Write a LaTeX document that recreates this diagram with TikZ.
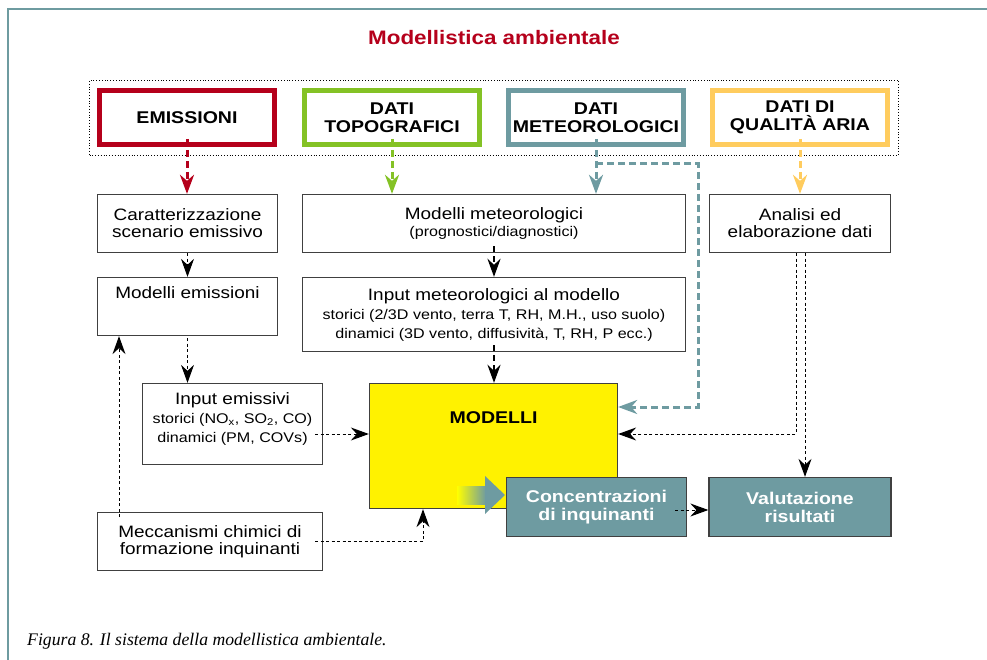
\documentclass[tikz,border=0pt]{standalone}
\usepackage{fontspec}
\setmainfont{Liberation Sans}[FakeStretch=1.15]
\newfontfamily\capfont{Liberation Serif}
\usetikzlibrary{arrows.meta,calc}
\definecolor{cred}{HTML}{B5001B}
\definecolor{cgreen}{HTML}{84C225}
\definecolor{cteal}{HTML}{6E9BA1}
\definecolor{cyel}{HTML}{FFCC5E}
\definecolor{cframe}{HTML}{6E9BA0}
\definecolor{cborder}{HTML}{404040}
\newcommand{\bigf}{\fontsize{16.5}{17}\selectfont}
\newcommand{\smallf}{\fontsize{14}{19}\selectfont}
\newcommand{\boldf}{\fontsize{17}{18}\selectfont\bfseries}
\tikzset{
  topbox/.style={draw, line width=5pt, fill=white, minimum width=175pt, minimum height=54pt, align=center, font=\boldf, inner sep=0pt},
  plainbox/.style={draw=cborder, line width=1.3pt, fill=white, align=center, inner sep=0pt, font=\bigf},
  tealbox/.style={draw=cborder, line width=1.3pt, fill=cteal, align=center, inner sep=0pt, font=\boldf, text=white},
  txt/.style={inner sep=0pt, align=center},
  cdash/.style={draw=#1, line width=3pt, dash pattern=on 7pt off 4pt, -{Stealth[length=19pt,width=14pt,inset=6pt,fill=#1]}},
  bdash/.style={draw=black, line width=2.5pt, dash pattern=on 6pt off 4pt, -{Stealth[length=18pt,width=13pt,inset=6pt]}},
  tdash/.style={draw=black, line width=1pt, dash pattern=on 3pt off 2.5pt, -{Stealth[length=18pt,width=13pt,inset=6pt]}},
}
\begin{document}
\begin{tikzpicture}[x=1pt,y=-1pt]
\useasboundingbox (0,0) rectangle (987,660);
% frame
\draw[cframe, line width=2.5pt] (8,660) -- (8,9) -- (987,9);
% title
\node[txt, font=\fontsize{19.5}{20}\selectfont\bfseries, text=cred] (title) at (494,38) {Modellistica ambientale};
% dotted group
\node[draw, dotted, line width=0.8pt, minimum width=809pt, minimum height=75pt, inner sep=0pt] (grp) at (494,117.5) {};
% top boxes
\node[topbox, draw=cred]   (emi) at (187,117.5) {EMISSIONI};
\node[topbox, draw=cgreen] (topo) at (392,117.5) {DATI\\TOPOGRAFICI};
\node[topbox, draw=cteal]  (met) at (596,117.5) {DATI\\METEOROLOGICI};
\node[topbox, draw=cyel]   (qual) at (800,117.5) {DATI DI\\QUALITÀ ARIA};
% second row
\node[plainbox, minimum width=180pt, minimum height=58pt] (car) at (187.5,223.5) {Caratterizzazione\\scenario emissivo};
\node[plainbox, minimum width=383pt, minimum height=58pt, font=\smallf] (mmet) at (494,223.5) {{\bigf Modelli meteorologici}\\[-2pt](prognostici/diagnostici)};
\node[plainbox, minimum width=181pt, minimum height=58pt] (ana) at (800,223.5) {Analisi ed\\elaborazione dati};
% third row
\node[plainbox, minimum width=180pt, minimum height=58pt] (memi) at (187.5,306.5) {};
\node[txt, font=\bigf, anchor=base] (memit) at (187.5,298) {Modelli emissioni};
\node[plainbox, minimum width=383pt, minimum height=74pt, font=\smallf] (imet) at (494,314.5) {{\bigf Input meteorologici al modello}\\storici (2/3D vento, terra T, RH, M.H., uso suolo)\\dinamici (3D vento, diffusività, T, RH, P ecc.)};
% input emissivi
\node[plainbox, minimum width=180pt, minimum height=81pt] (iemi) at (232.5,424) {};
\node[txt, font=\smallf, anchor=north] (iemit) at (232.5,392) {{\bigf Input emissivi}\\storici (NO\textsubscript{x}, SO\textsubscript{2}, CO)\\dinamici (PM, COVs)};
% modelli
\node[draw=cborder, line width=1.3pt, fill=yellow, minimum width=248pt, minimum height=125pt, inner sep=0pt] (mod) at (493.5,446) {};
\node[txt, font=\boldf, anchor=base] (modt) at (493.5,423) {MODELLI};
% meccanismi
\node[plainbox, minimum width=225pt, minimum height=58pt] (mec) at (210,541.5) {Meccanismi chimici di\\formazione inquinanti};
% gradient arrow
\shade[left color=yellow, right color=cteal] (457,486) rectangle (486,504);
\fill[cteal] (485,476) -- (505,495) -- (485,514) -- cycle;
% teal output boxes
\node[tealbox, minimum width=180pt, minimum height=59pt] (conc) at (596.5,507) {Concentrazioni\\di inquinanti};
\node[tealbox, minimum width=182pt, minimum height=59pt] (val) at (800,507) {Valutazione\\risultati};
% colored arrows
\draw[cdash=cred]   ([yshift=8pt]emi.south) -- (car.north -| emi.south);
\draw[cdash=cgreen] ([yshift=8pt]topo.south) -- (mmet.north -| topo.south);
\draw[cdash=cteal]  ([yshift=8pt]met.south) -- (mmet.north -| met.south);
\draw[cdash=cyel]   ([yshift=8pt]qual.south) -- (ana.north -| qual.south);
\coordinate (tj) at (698,164);
\coordinate (tk) at (698,407);
\draw[cdash=cteal] (met.south |- tj) -- (tj) -- (tk) -- (tk -| mod.east);
% black arrows
\draw[tdash] (car.south) -- (memi.north);
\draw[tdash] ([yshift=-2pt]memi.south) -- (iemi.north -| memi.south);
\draw[bdash] ([yshift=7pt]mmet.south) -- (imet.north);
\draw[bdash] ([yshift=7pt]imet.south) -- (mod.north -| imet.south);
\coordinate (e1) at (315,434);
\draw[tdash] (e1) -- (e1 -| mod.west);
\coordinate (m1) at (315,541);
\coordinate (m2) at (423,541);
\draw[tdash] (m1) -- (m2) -- (m2 |- mod.south);
\coordinate (m3) at (119,517);
\draw[tdash] (m3) -- (memi.south -| m3);
\coordinate (a1) at (796,434);
\coordinate (a2) at (805,434);
\draw[tdash] (ana.south -| a1) -- (a1) -- (a1 -| mod.east);
\draw[tdash] (ana.south -| a2) -- (val.north -| a2);
\coordinate (c1) at (675,510);
\draw[tdash] (c1) -- (c1 -| val.west);
% caption
\node[txt, anchor=base west, font=\capfont\itshape\fontsize{17.7}{18}\selectfont] (cap) at (27,645) {Figura 8. Il sistema della modellistica ambientale.};
\end{tikzpicture}
\end{document}
